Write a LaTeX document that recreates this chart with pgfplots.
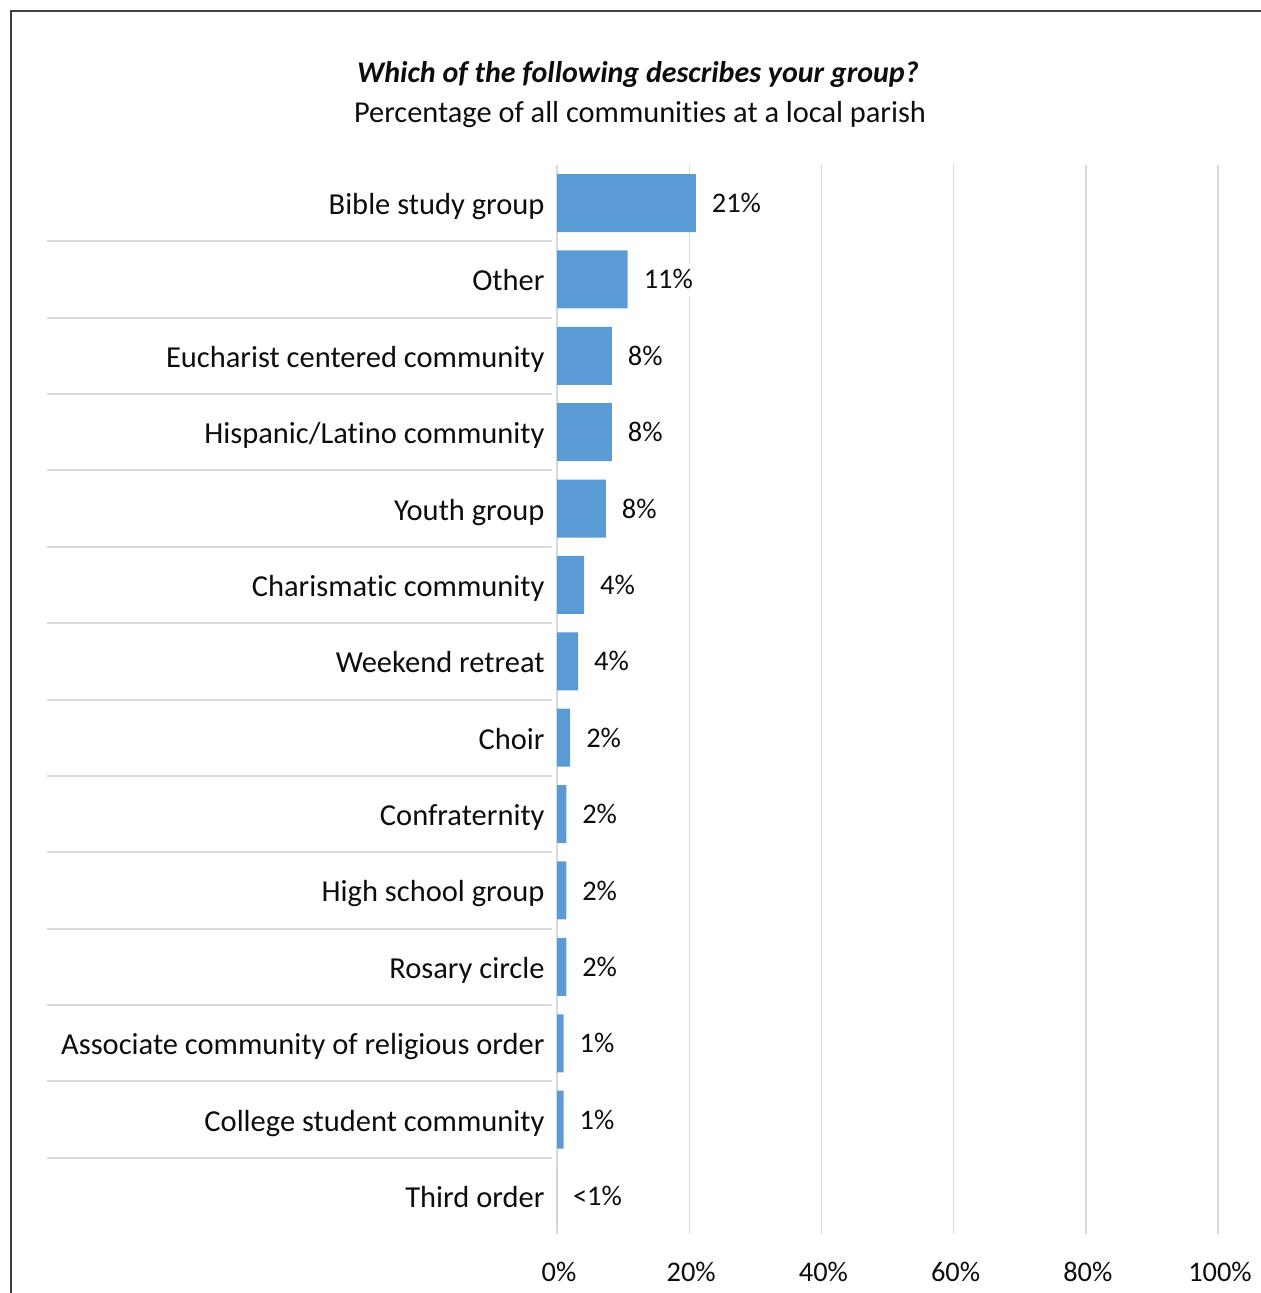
\documentclass[border=0pt]{standalone}
\usepackage{pgfplots}
\pgfplotsset{compat=1.18}
\usepackage{fontspec}
\setmainfont{Carlito}[Ligatures=NoCommon]
\definecolor{barblue}{HTML}{5B9BD5}
\definecolor{gridgray}{HTML}{D9D9D9}
\definecolor{framegray}{HTML}{404040}
\definecolor{txt}{HTML}{0D0D0D}
\begin{document}
\begin{tikzpicture}
\useasboundingbox (0,0) rectangle (630pt,-646.5pt);
\draw[line width=1.3pt, framegray] (5.5pt,-700pt) -- (5.5pt,-5.5pt) -- (700pt,-5.5pt);
\node[txt, font=\fontsize{15}{18}\selectfont\bfseries\itshape] at (319pt,-37.5pt) {Which of the following describes your group?};
\node[txt, font=\fontsize{15.2}{18}\selectfont] at (320pt,-57.5pt) {Percentage of all communities at a local parish};
\begin{axis}[
  at={(278.5pt,-82.4pt)}, anchor=north west,
  scale only axis, width=330.5pt, height=534.7pt,
  xbar, bar width=29pt,
  xmin=0, xmax=100, ymin=-0.5, ymax=13.5, y dir=reverse,
  xtick={0,20,...,100},
  xticklabel={\pgfmathprintnumber{\tick}\%},
  /pgf/number format/assume math mode=true,
  ytick={0,...,13},
  yticklabels={Bible study group, Other, Eucharist centered community, Hispanic/Latino community, Youth group, Charismatic community, Weekend retreat, Choir, Confraternity, High school group, Rosary circle, Associate community of religious order, College student community, Third order},
  xmajorgrids, major grid style={gridgray, line width=0.7pt},
  axis line style={draw=none},
  major tick length=0pt,
  yticklabel style={font=\fontsize{15.25}{18}\selectfont, text=txt, anchor=base east, xshift=-2.7pt, yshift=-5.75pt},
  xticklabel style={font=\fontsize{14.2}{17}\selectfont, text=txt, yshift=-10.5pt, xshift=1pt},
  nodes near coords,
  point meta=explicit symbolic,
  nodes near coords style={anchor=west, xshift=4.5pt, fill=white, text=txt, font=\fontsize{14.2}{17}\selectfont},
  clip=false,
]
\addplot[fill=barblue, draw=none] coordinates {
(21,0) [21\%]
(10.7,1) [11\%]
(8.3,2) [8\%]
(8.3,3) [8\%]
(7.4,4) [8\%]
(4.1,5) [4\%]
(3.2,6) [4\%]
(2.0,7) [2\%]
(1.4,8) [2\%]
(1.4,9) [2\%]
(1.4,10) [2\%]
(1.0,11) [1\%]
(1.0,12) [1\%]
(0,13) [<1\%]
};
\pgfplotsinvokeforeach{0.5,1.5,...,12.5}{
  \draw[gridgray, line width=1pt] ([xshift=-255pt]axis cs:0,#1) -- ([xshift=-2.5pt]axis cs:0,#1);
}
\end{axis}
\end{tikzpicture}
\end{document}
